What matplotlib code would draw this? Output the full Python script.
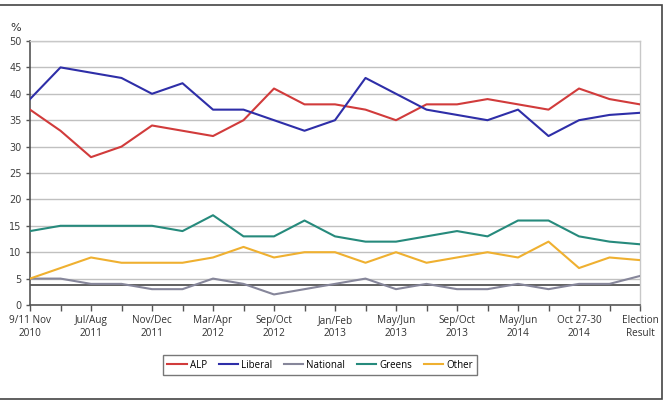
import matplotlib
matplotlib.use("Agg")
import matplotlib.pyplot as plt
from matplotlib.patches import Rectangle

labels = ["9/11 Nov\n2010", "Jul/Aug\n2011", "Nov/Dec\n2011", "Mar/Apr\n2012", "Sep/Oct\n2012",
          "Jan/Feb\n2013", "May/Jun\n2013", "Sep/Oct\n2013", "May/Jun\n2014", "Oct 27-30\n2014",
          "Election\nResult"]
alp = [37, 33, 28, 30, 34, 33, 32, 35, 41, 38, 38, 37, 35, 38, 38, 39, 38, 37, 41, 39, 38]
liberal = [39, 45, 44, 43, 40, 42, 37, 37, 35, 33, 35, 43, 40, 37, 36, 35, 37, 32, 35, 36, 36.4]
national = [5, 5, 4, 4, 3, 3, 5, 4, 2, 3, 4, 5, 3, 4, 3, 3, 4, 3, 4, 4, 5.5]
greens = [14, 15, 15, 15, 15, 14, 17, 13, 13, 16, 13, 12, 12, 13, 14, 13, 16, 16, 13, 12, 11.5]
other = [5, 7, 9, 8, 8, 8, 9, 11, 9, 10, 10, 8, 10, 8, 9, 10, 9, 12, 7, 9, 8.5]
ref_level = 3.85

series = [("ALP", alp, "#d13b3b"), ("Liberal", liberal, "#2e2ea8"),
          ("National", national, "#86869a"), ("Greens", greens, "#268a7c"),
          ("Other", other, "#efb030")]

fig = plt.figure(figsize=(6.68, 4.03), dpi=100)
ax = fig.add_axes([30/668, 1-305/403, 610/668, 264/403])
x = list(range(len(alp)))
ax.axhline(ref_level, color="#555555", lw=1.3, zorder=2)
for name, vals, col in series:
    ax.plot(x, vals, color=col, lw=1.5, label=name, zorder=3)

ax.set_xlim(0, len(alp)-1)
ax.set_ylim(0, 50)
ax.set_yticks(range(0, 51, 5))
ax.set_xticks(x)
ax.set_xticklabels([labels[i//2] if i % 2 == 0 else "" for i in x],
                   fontsize=7.2, color="#333333", family="Open Sans", linespacing=1.3)
for t in ax.get_yticklabels():
    t.set_fontsize(7)
    t.set_color("#404040")
ax.tick_params(axis="x", direction="out", length=4, color="#555555", width=1, pad=3)
ax.tick_params(axis="y", direction="out", length=3, color="#555555", width=1, pad=3)
ax.grid(axis="y", color="#c0c0c0", lw=1)
ax.set_axisbelow(True)
for s in ["top", "right"]:
    ax.spines[s].set_color("#c8c8c8")
    ax.spines[s].set_linewidth(1)
for s in ["left", "bottom"]:
    ax.spines[s].set_color("#555555")
    ax.spines[s].set_linewidth(1.2)
ax.text(-0.015, 1.03, "%", transform=ax.transAxes, fontsize=8, color="#333333", ha="right", va="bottom")

leg = fig.legend(loc="center", bbox_to_anchor=(320/668, 1-365/403), ncol=5,
                 frameon=True, fancybox=False, edgecolor="#555555", handlelength=2.0,
                 handletextpad=0.3, columnspacing=1.2, borderpad=0.45,
                 prop={"family": "Open Sans", "size": 7})
leg.get_frame().set_linewidth(1)

fig.patches.append(Rectangle((-0.01, 1-399/403), 662/668+0.01, 394/403, transform=fig.transFigure,
                             fill=False, edgecolor="#444444", lw=1.2))
fig.savefig("out.png", dpi=100)
